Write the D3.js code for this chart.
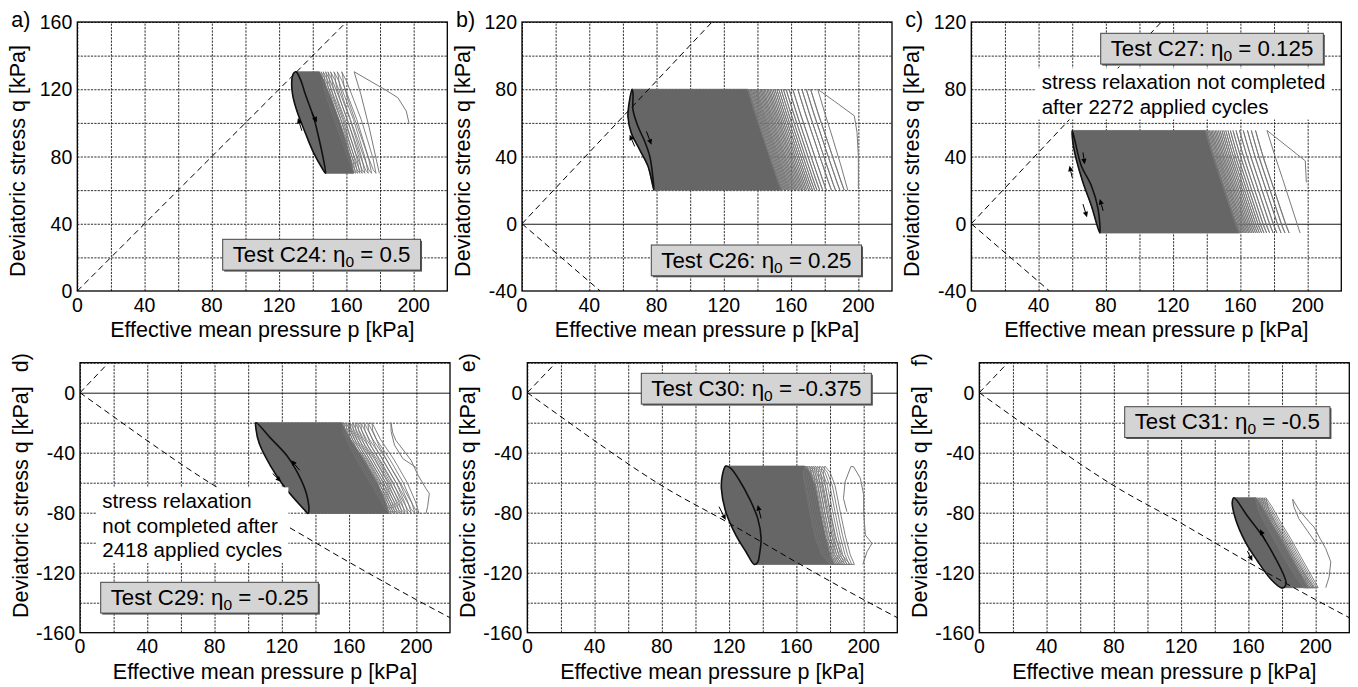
<!DOCTYPE html>
<html>
<head>
<meta charset="utf-8">
<script src="https://cdn.jsdelivr.net/npm/d3@7"></script>
<style>
	body { margin: 0; background: #fff; }
	svg text { font-family: "Liberation Sans", Arial, Helvetica, sans-serif; fill: #000; }
</style>
</head>
<body>
<svg id="chart" width="1358" height="687"></svg>
<script>
// ---------- data (p, q in kPa) ----------
const pTicks = [0, 40, 80, 120, 160, 200];
const qTicksA = [0, 40, 80, 120, 160];
const qTicksBC = [-40, 0, 40, 80, 120];
const qTicksDEF = [-160, -120, -80, -40, 0];

const testNames = ["C24", "C26", "C27", "C29", "C30", "C31"];
const eta0 = ["0.5", "0.25", "0.125", "-0.25", "-0.375", "-0.5"];
const noteC = ["stress relaxation not completed", "after 2272 applied cycles"];
const noteD = ["stress relaxation", "not completed after", "2418 applied cycles"];

// a) C24
const loopA = [[130,130.4],[132.6,126],[135.6,117],[140.6,103],[143.6,91],[146.2,79],[147.6,70],[145.6,73],[140.6,82],[135.6,94],[130.6,107],[128,117],[127.6,126],[128.6,129.5]];
const bandA = [[130,130.4],[144,130.4],[146.8,125],[150.3,116],[155.6,102],[159.3,90],[162.6,79],[164.4,70],[147.6,70],[145.6,73],[140.6,82],[135.6,94],[130.6,107],[128,117],[127.6,126],[128.6,129.5]];
const cycleA = [[157.2,130.4],[160,125],[163.5,116],[168.8,102],[172.5,90],[175.8,79],[177.6,70],[176,72],[172.5,81],[169,91],[165,102],[161.2,113],[158.6,122],[157.6,129]];
const shiftA = [0, -2.6, -4.6, -6.6, -8.2, -9.6, -11, -12.2];
const firstA = [[197.2,100],[195.6,107],[190.6,115],[182.6,120],[164.6,130.4],[168.6,117],[173.6,97],[179.6,70]];
const arrowA = [[139.5,106.2,142.5,100.3],[133.5,95.3,131.2,102.9]];
const csA = [[[0,0],[160,160]]];

// b) C26
const loopB = [[65.4,80],[66,77.6],[66,67.7],[69,57.8],[73,48.9],[76,40],[78,26],[78.4,20],[75,34],[70,44],[65,53.9],[63,63.8],[64,73.7]];
const bandB = [[65.4,80],[134.5,80],[138.1,68],[142.5,54],[147.5,39],[152.1,26],[154.5,20],[78.4,20],[75,34],[70,44],[65,53.9],[63,63.8],[64,73.7]];
const cycleB = [[171.6,80],[175.4,68],[180,54],[185,39],[189.5,26],[191.6,20],[190,24],[186,36],[181,51],[176.5,64],[172.8,76]];
const shiftB = [0, -2.6, -5.2, -7.6, -10.6, -12.8, -14.6, -16.2, -17.6, -18.9, -20.1, -21.2, -22.3, -23.3, -24.3, -25.2, -26.1, -27, -27.9, -28.7, -29.5, -30.3, -31.1, -31.9, -32.6, -33.3, -34, -34.7, -35.4, -36.1, -36.8, -37.5];
const firstB = [[200,20.5],[200,40],[199.2,54.3],[197.6,64.2],[186,72.7],[175.8,80],[180,66],[185,50],[189.5,35],[193.7,20]];
const arrowB = [[74,54.9,77,47],[67,46,64,53]];
const csB = [[[0,0],[113,120]],[[0,0],[46.5,-40]]];

// c) C27
const loopC = [[60,55.5],[61.4,50.3],[65.4,34.5],[71.4,22.6],[75.4,8.7],[76.4,-5.5],[71.4,10.7],[66.4,24.6],[62.4,38.4],[60.4,48.3]];
const bandC = [[60,55.5],[139.5,55.5],[143.1,43],[147.7,29],[152.7,14],[157.1,1],[159.5,-5.5],[76.4,-5.5],[71.4,10.7],[66.4,24.6],[62.4,38.4],[60.4,48.3]];
const cycleC = [[169,55.5],[172.6,43],[177.2,29],[182.2,14],[186.6,1],[189,-5.5],[187.4,-2],[183.4,10],[178.4,25],[174,38],[170.2,51]];
const shiftC = [0, -2.5, -4.8, -7.3, -9.5, -11.6, -13.4, -15, -16.4, -17.7, -18.9, -20, -21.1, -22.1, -23.1, -24, -24.9, -25.8, -26.6, -27.4, -28.2, -29, -29.8];
const firstC = [[199.2,24.6],[198.6,37.4],[175.8,55.5],[180,42],[185,27],[190.5,10],[195.5,-5.5]];
const arrowC = [[66.4,42.4,67.4,35.4],[60,27.5,58.4,34.5],[78.4,7.7,76.4,14.7],[66.4,11.7,68.8,3.8]];
const csC = [[[0,0],[113,120]],[[0,0],[46.5,-40]]];

// d) C29
const loopD = [[104.6,-20],[113.6,-30.6],[123.6,-42.8],[130.6,-56.1],[134.6,-67.2],[136,-79.4],[135.5,-80.5],[133.6,-78.3],[121.6,-62.8],[113.6,-49.4],[106.6,-33.9],[104.6,-23.9]];
const bandD = [[104.6,-20],[155.6,-20],[160.6,-31],[168.6,-44.4],[176.6,-60],[181.6,-73],[183.6,-80.5],[135.5,-80.5],[133.6,-78.3],[121.6,-62.8],[113.6,-49.4],[106.6,-33.9],[104.6,-23.9]];
const cycleD = [[173.6,-20],[178.6,-31],[186.6,-44.4],[194.6,-60],[199.6,-73],[201.6,-80.5],[199.5,-78],[193,-65],[185,-50],[178,-36],[174,-25]];
const shiftD = [0, -2.4, -4.6, -6.6, -8.4, -10, -11.5, -12.9, -14.2, -15.4, -16.6, -17.7];
const firstD = [[200,-50],[192,-44],[187,-35],[185,-26],[184.9,-20],[186,-27],[187.8,-31.7],[196.8,-45],[201,-55],[205.7,-63.9],[207.7,-67.2],[206.7,-76],[205.7,-80.5]];
const arrowD = [[130.6,-51.7,125.6,-45],[114.6,-53.9,119.6,-59.4]];
const csD = [[[0,0],[17,20]],[[0,0],[20,-16],[40,-32],[80,-62],[120,-87],[160,-113],[200,-138],[220,-150]]];

// e) C30
const loopE = [[118,-48.9],[116,-54.9],[115.4,-63.8],[118,-79.3],[124,-94.9],[130,-106],[135,-114.5],[137,-113],[138,-108.2],[139,-97],[137,-83.8],[132,-70.4],[126,-58.2],[121,-50.4]];
const bandE = [[118,-48.9],[165,-48.9],[168,-53],[171,-62],[174,-79],[177,-95],[180,-108],[182.5,-114.5],[135,-114.5],[130,-106],[124,-94.9],[118,-79.3],[115.4,-63.8],[116,-54.9]];
const cycleE = [[177,-48.9],[180,-53],[183,-62],[186,-79],[189,-95],[192,-108],[194.5,-114.5],[192,-114.5],[187,-108],[183,-96],[180,-80],[177.5,-64],[176,-54]];
const shiftE = [0, -1.6, -3.1, -4.5, -5.8, -7, -8.1, -9.2, -10.2, -11.2, -12];
const firstE = [[190,-79.3],[188,-70.4],[189,-59.3],[192.4,-49.3],[194,-49.3],[198,-57],[200,-68],[200,-79.3],[201,-94.9],[205,-100.4],[202,-106],[199.5,-114.5]];
const arrowE = [[114,-76,118,-84.9],[139,-83.8,137,-74.9]];
const csE = [[[0,0],[17,20]],[[0,0],[20,-16],[40,-32],[80,-62],[120,-87],[160,-113],[200,-138],[220,-150]]];

// f) C31
const loopF = [[151.4,-70],[159.4,-82.2],[168.4,-95.6],[175.4,-108.9],[180.4,-120],[182.4,-126.7],[181.4,-129.6],[179.4,-130],[173.4,-124.4],[165.4,-112.2],[158.4,-100],[152.4,-84.4],[150.4,-73.3]];
const bandF = [[151.4,-70],[164.4,-70],[168,-76],[173,-86],[179,-97],[185,-109],[190.5,-120],[194.5,-128],[195.5,-130],[179.4,-130],[173.4,-124.4],[165.4,-112.2],[158.4,-100],[152.4,-84.4],[150.4,-73.3]];
const cycleF = [[170.4,-70],[174,-76],[179,-86],[185,-97],[191,-109],[196.5,-120],[200.5,-128],[201.5,-130],[199,-130],[194,-122],[188,-111],[182,-99],[176,-87],[172,-78]];
const shiftF = [0, -1.1, -2.1, -3, -3.9, -4.8, -5.6, -6.3];
const firstF = [[200,-100],[195,-92],[190,-84],[187,-76],[186.3,-71],[190,-78],[196,-86],[199,-89.5],[203,-98],[206,-104],[209,-112.8],[208,-122.8],[206,-130]];
const arrowF = [[170.2,-98.9,166.9,-91.1],[159.4,-105.6,162.4,-112.2]];
const csF = [[[0,0],[17,20]],[[0,0],[20,-16],[40,-32],[80,-62],[120,-87],[160,-113],[200,-138],[220,-150]]];


// ---------- layout (pixels) ----------
const panels = [
	{ key: "a", left: 77.3, top: 22, h: 269, qDomain: [0, 160], qTicks: qTicksA, loop: loopA, band: bandA, cycle: cycleA, shifts: shiftA, first: firstA, arrows: arrowA, cs: csA, box: [145.4, 217.3], rotLabel: false },
	{ key: "b", left: 522, top: 22, h: 269, qDomain: [-40, 120], qTicks: qTicksBC, loop: loopB, band: bandB, cycle: cycleB, shifts: shiftB, first: firstB, arrows: arrowB, cs: csB, box: [129.3, 223], rotLabel: false },
	{ key: "c", left: 971.3, top: 22, h: 269, qDomain: [-40, 120], qTicks: qTicksBC, loop: loopC, band: bandC, cycle: cycleC, shifts: shiftC, first: firstC, arrows: arrowC, cs: csC, box: [129.4, 11.3], rotLabel: false,
		note: noteC, noteAt: [70.4, 67.3] },
	{ key: "d", left: 80, top: 362.7, h: 270, qDomain: [-160, 20], qTicks: qTicksDEF, loop: loopD, band: bandD, cycle: cycleD, shifts: shiftD, first: firstD, arrows: arrowD, cs: csD, box: [20.7, 219.6], rotLabel: true,
		note: noteD, noteAt: [22.3, 145.6] },
	{ key: "e", left: 527.3, top: 362.7, h: 270, qDomain: [-160, 20], qTicks: qTicksDEF, loop: loopE, band: bandE, cycle: cycleE, shifts: shiftE, first: firstE, arrows: arrowE, cs: csE, box: [114, 10.6], rotLabel: true },
	{ key: "f", left: 979.3, top: 362.7, h: 270, qDomain: [-160, 20], qTicks: qTicksDEF, loop: loopF, band: bandF, cycle: cycleF, shifts: shiftF, first: firstF, arrows: arrowF, cs: csF, box: [145.4, 44], rotLabel: true }
];
const plotW = 370;


function whenDocumentLoaded(action) {
	if (document.readyState === "loading") {
		document.addEventListener("DOMContentLoaded", action);
	} else {
		action();
	}
}

whenDocumentLoaded(() => {
	const svg = d3.select("#chart");
	panels.forEach((p, i) => drawPanel(svg, p, i));
});


function drawPanel(svg, P, i) {
	const x = d3.scaleLinear().domain([0, 220]).range([0, plotW]);
	const y = d3.scaleLinear().domain(P.qDomain).range([P.h, 0]);

	const g = svg.append("g").attr("transform", `translate(${P.left},${P.top})`);

	g.append("clipPath")
		.attr("id", "clip-" + P.key)
		.append("rect")
		.attr("width", plotW)
		.attr("height", P.h);

	const plot = g.append("g").attr("clip-path", `url(#clip-${P.key})`);

	// dotted grid every 20 kPa (axis with long ticks)
	const gx = plot.append("g")
		.attr("transform", `translate(0,${P.h})`)
		.call(d3.axisBottom(x).ticks(11).tickSize(-P.h).tickFormat(""));
	const gy = plot.append("g")
		.call(d3.axisLeft(y).ticks(9).tickSize(-plotW).tickFormat(""));
	[gx, gy].forEach(ax => {
		ax.select(".domain").remove();
		ax.selectAll("line")
			.attr("stroke", "#1a1a1a")
			.attr("stroke-width", 0.9)
			.attr("stroke-dasharray", "2.2,1.2");
	});
	gy.selectAll(".tick").filter(d => d === 0).select("line")
		.attr("stroke", "#000")
		.attr("stroke-dasharray", null);

	const line = d3.line().x(d => x(d[0])).y(d => y(d[1]));
	const loopCurve = d3.curveCatmullRomClosed.alpha(0.5);

	// dense part of the cycle cloud
	plot.append("path")
		.attr("d", line.curve(d3.curveLinearClosed)(P.band))
		.attr("fill", "#666")
		.attr("stroke", "#666")
		.attr("stroke-width", 0.8);
	plot.append("path")
		.attr("d", line.curve(loopCurve)(P.loop))
		.attr("fill", "#666");

	// individual cycles in the sparse part
	plot.append("g")
		.selectAll("path")
		.data(P.shifts)
		.join("path")
		.attr("d", s => line.curve(d3.curveLinearClosed)(P.cycle.map(d => [d[0] + s, d[1]])))
		.attr("fill", "none")
		.attr("stroke", "#757575")
		.attr("stroke-width", 0.9);

	// first cycle
	plot.append("path")
		.attr("d", line.curve(d3.curveLinear)(P.first))
		.attr("fill", "none")
		.attr("stroke", "#7a7a7a")
		.attr("stroke-width", 1);

	// critical state lines
	plot.append("g")
		.selectAll("path")
		.data(P.cs)
		.join("path")
		.attr("d", d => line.curve(d3.curveMonotoneX)(d))
		.attr("fill", "none")
		.attr("stroke", "#000")
		.attr("stroke-width", 1)
		.attr("stroke-dasharray", "6,4");

	// last cycle in black
	plot.append("path")
		.attr("d", line.curve(loopCurve)(P.loop))
		.attr("fill", "none")
		.attr("stroke", "#111")
		.attr("stroke-width", 1.6);

	// direction arrows
	P.arrows.forEach(a => {
		const x1 = x(a[0]), y1 = y(a[1]), x2 = x(a[2]), y2 = y(a[3]);
		const ang = Math.atan2(y2 - y1, x2 - x1);
		const L = 5.5, W = 2.6;
		const bx = x2 - L * Math.cos(ang), by = y2 - L * Math.sin(ang);
		plot.append("line")
			.attr("x1", x1).attr("y1", y1).attr("x2", bx).attr("y2", by)
			.attr("stroke", "#000").attr("stroke-width", 1);
		plot.append("path")
			.attr("d", `M${x2},${y2}L${bx - W * Math.sin(ang)},${by + W * Math.cos(ang)}L${bx + W * Math.sin(ang)},${by - W * Math.cos(ang)}Z`)
			.attr("fill", "#000");
	});

	// text note with white background
	if (P.note) {
		const nt = g.append("g");
		const txt = nt.append("text").style("font-size", "20.5px");
		P.note.forEach((s, k) => {
			txt.append("tspan")
				.attr("x", P.noteAt[0])
				.attr("y", P.noteAt[1] + k * 24.3)
				.text(s);
		});
		const bb = txt.node().getBBox();
		nt.insert("rect", "text")
			.attr("x", bb.x - 6).attr("y", bb.y - 2)
			.attr("width", bb.width + 12).attr("height", bb.height + 4)
			.attr("fill", "#fff");
	}

	// frame
	g.append("rect")
		.attr("width", plotW)
		.attr("height", P.h)
		.attr("fill", "none")
		.attr("stroke", "#000")
		.attr("stroke-width", 1.3);

	// test label box
	const box = g.append("g").attr("transform", `translate(${P.box[0]},${P.box[1]})`);
	const bt = box.append("text").attr("x", 10).attr("y", 22.6).style("font-size", "22.3px");
	bt.append("tspan").text(`Test ${testNames[i]}: η`);
	bt.append("tspan").attr("dy", 5).style("font-size", "15.5px").text("0");
	bt.append("tspan").attr("dy", -5).text(` = ${eta0[i]}`);
	const tw = bt.node().getComputedTextLength();
	box.insert("rect", "text")
		.attr("x", 1.5).attr("y", 1.5)
		.attr("width", tw + 20).attr("height", 30.8)
		.attr("fill", "#555");
	box.insert("rect", "text")
		.attr("width", tw + 20).attr("height", 30.8)
		.attr("fill", "#d4d4d4")
		.attr("stroke", "#444")
		.attr("stroke-width", 1);

	// tick labels
	g.append("g")
		.selectAll("text")
		.data(pTicks)
		.join("text")
		.attr("x", d => x(d))
		.attr("y", P.h + 20.5)
		.attr("text-anchor", "middle")
		.style("font-size", "19.5px")
		.text(d => d);
	g.append("g")
		.selectAll("text")
		.data(P.qTicks)
		.join("text")
		.attr("x", -5)
		.attr("y", d => y(d))
		.attr("dy", "0.36em")
		.attr("text-anchor", "end")
		.style("font-size", "19.5px")
		.text(d => String(d));

	// axis titles
	g.append("text")
		.attr("x", plotW / 2)
		.attr("y", P.h + 46)
		.attr("text-anchor", "middle")
		.style("font-size", "21.5px")
		.text("Effective mean pressure p [kPa]");
	g.append("text")
		.attr("transform", `translate(-52,${P.h / 2 + 4.5}) rotate(-90)`)
		.attr("text-anchor", "middle")
		.style("font-size", "21.5px")
		.text("Deviatoric stress q [kPa]");

	// panel letter
	if (P.rotLabel) {
		g.append("text")
			.attr("transform", `translate(-52,-9.5) rotate(-90)`)
			.attr("text-anchor", "end")
			.style("font-size", "21.5px")
			.text(P.key + ")");
	} else {
		g.append("text")
			.attr("x", -66)
			.attr("y", 5)
			.style("font-size", "21.5px")
			.text(P.key + ")");
	}
}
</script>
</body>
</html>
